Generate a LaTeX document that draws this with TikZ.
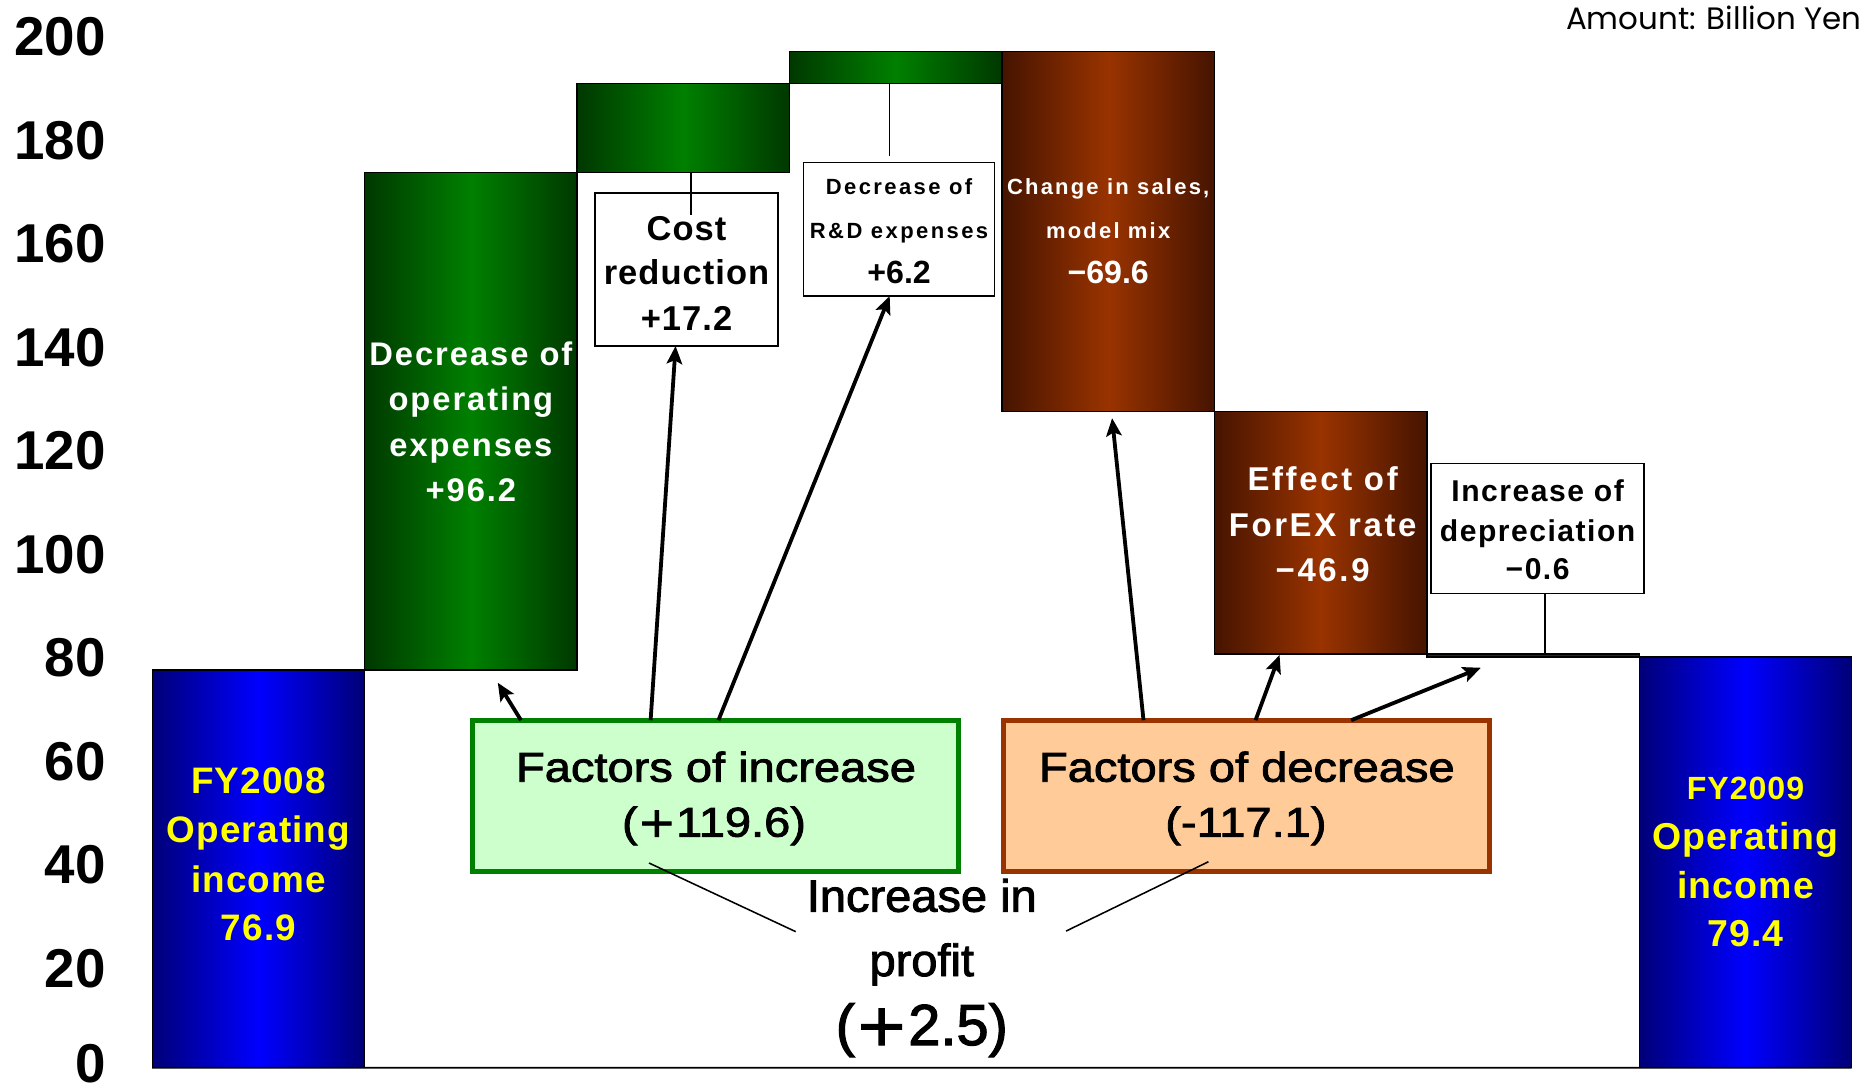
\documentclass[tikz,border=0pt]{standalone}
\usepackage{fontspec}
\setmainfont{Liberation Sans}
\newfontfamily\dvsans{DejaVu Sans}
\newfontfamily\amtfont{Poppins}
\usetikzlibrary{arrows.meta,calc}
\newcommand{\mysz}[1]{\fontsize{#1pt}{#1pt}\selectfont}
\newcommand{\bigplus}{{\dvsans\addfontfeature{FakeStretch=1.1,FakeBold=2}+}}
\definecolor{navyb}{RGB}{0,0,120}
\definecolor{brightb}{RGB}{0,0,255}
\definecolor{gdk}{RGB}{0,56,0}
\definecolor{gmid}{RGB}{0,128,0}
\definecolor{bdk}{RGB}{70,20,0}
\definecolor{bmid}{RGB}{153,51,0}
\definecolor{incfill}{RGB}{204,255,204}
\definecolor{incline}{RGB}{0,128,0}
\definecolor{decfill}{RGB}{255,204,153}
\definecolor{decline}{RGB}{153,51,0}
\definecolor{dred}{RGB}{128,0,0}
\definecolor{ylw}{RGB}{255,255,0}
\begin{document}
\begin{tikzpicture}[x=1pt,y=-1pt,
  bar/.style={draw=black,line width=1.2pt,inner sep=0pt,outer sep=0pt,anchor=north west,minimum width=178.6pt},
  bluebar/.style={bar,left color=navyb,right color=navyb,middle color=brightb},
  greenbar/.style={bar,left color=gdk,right color=gdk,middle color=gmid},
  brownbar/.style={bar,left color=bdk,right color=bdk,middle color=bmid},
  lbox/.style={draw=black,line width=1.2pt,fill=white,inner sep=0pt,outer sep=0pt,anchor=north west},
  fbox/.style={line width=4.2pt,inner sep=0pt,outer sep=0pt,anchor=north west,minimum width=408.6pt,minimum height=127.5pt},
  tl/.style={inner sep=0pt,anchor=base},
  ylab/.style={inner sep=0pt,anchor=east,font=\bfseries\mysz{46}},
  arr/.style={line width=3.2pt,-{Stealth[length=15pt,width=13pt,inset=3pt]}},
  thinln/.style={line width=1.3pt},
  wtext/.style={tl,text=white},
]
\useasboundingbox (0,0) rectangle (1568,915);

% bars
\node[bluebar,minimum height=334.4pt] (b1) at (128,563.3) {};
\node[greenbar,minimum height=418.4pt] (b2) at (306.6,144.9) {};
\node[greenbar,minimum height=74.8pt] (b3) at (485.2,70.1) {};
\node[greenbar,minimum height=27pt] (b4) at (663.8,43.1) {};
\node[brownbar,minimum height=302.7pt] (b5) at (842.4,43.1) {};
\node[brownbar,minimum height=204pt] (b6) at (1021,345.8) {};
\node[bar,fill=dred,minimum height=2.6pt] (b7) at (1199.6,549.8) {};
\node[bluebar,minimum height=345.3pt] (b8) at (1378.2,552.4) {};
\draw[line width=1.5pt] (b1.south west) -- (b8.south east);

% y labels
\foreach \v/\yy in {0/894.5,20/814,40/727.1,60/640.1,80/553.1,100/466.1,120/379.1,140/292.1,160/205.2,180/118.2,200/31.2}
  \node[ylab] (yl\v) at (89,\yy) {\v};

\node[tl,anchor=base east,font=\amtfont\mysz{26}] (amt) at (1565,24.5) {Amount: Billion Yen};

% bar 1 text
\begin{scope}[every node/.style={tl,text=ylw,font=\bfseries\mysz{31}\addfontfeature{LetterSpace=3}}]
\node (t1a) at (217.3,667) {FY2008};
\node (t1b) at (217.3,708) {Operating};
\node (t1c) at (217.3,750) {income};
\node (t1d) at (217.3,791) {76.9};
\end{scope}
% bar 8 text
\begin{scope}[every node/.style={tl,text=ylw,font=\bfseries\mysz{31.5}\addfontfeature{LetterSpace=3}}]
\node[font=\bfseries\mysz{27}\addfontfeature{LetterSpace=3}] (t8a) at (1467.5,672) {FY2009};
\node (t8b) at (1467.5,714) {Operating};
\node (t8c) at (1467.5,755) {income};
\node (t8d) at (1467.5,796) {79.4};
\end{scope}
% bar 2 text
\begin{scope}[every node/.style={wtext,font=\bfseries\mysz{27.5}\addfontfeature{LetterSpace=6}}]
\node (t2a) at (395.9,307.7) {Decrease of};
\node (t2b) at (395.9,345.3) {operating};
\node (t2c) at (395.9,383.4) {expenses};
\node (t2d) at (395.9,421.8) {+96.2};
\end{scope}

% cost reduction box
\node[lbox,minimum width=153.8pt,minimum height=128.6pt] (cb) at (500.3,162.3) {};
\begin{scope}[every node/.style={tl,font=\bfseries\mysz{29}\addfontfeature{LetterSpace=3}}]
\node (t3a) at (577.2,201.8) {Cost};
\node (t3b) at (577.2,239.6) {reduction};
\node (t3c) at (577.2,277.5) {+17.2};
\end{scope}
\coordinate (cbc) at ($(cb.north)+(3.8,18.7)$);
\draw[thinln] (cbc |- b3.south) -- (cbc);

% R&D box
\node[lbox,minimum width=160.6pt,minimum height=112.4pt] (rd) at (675.6,136.5) {};
\begin{scope}[every node/.style={tl,font=\bfseries\mysz{18.5}\addfontfeature{LetterSpace=11}}]
\node (t4a) at (755.9,163.4) {Decrease of};
\node (t4b) at (755.9,200.4) {R\&D expenses};
\node[font=\bfseries\mysz{27}] (t4c) at (755.9,238.2) {+6.2};
\end{scope}
\coordinate (rdc) at ($(rd.north)+(-7.9,-5.5)$);
\draw[thinln] (rdc |- b4.south) -- (rdc);

% bar 5 text
\begin{scope}[every node/.style={wtext,font=\bfseries\mysz{18.5}\addfontfeature{LetterSpace=10}}]
\node (t5a) at (931.7,163.4) {Change in sales,};
\node (t5b) at (931.7,200.4) {model mix};
\node[font=\bfseries\mysz{27}] (t5c) at (931.7,238.2) {−69.6};
\end{scope}

% bar 6 text
\begin{scope}[every node/.style={wtext,font=\bfseries\mysz{27.7}\addfontfeature{LetterSpace=8}}]
\node (t6a) at (1112,412.8) {Effect of};
\node (t6b) at (1112,451.2) {ForEX rate};
\node (t6c) at (1112,489) {−46.9};
\end{scope}

% depreciation box
\node[lbox,minimum width=179.1pt,minimum height=109.3pt] (db) at (1203.2,389.5) {};
\begin{scope}[every node/.style={tl,font=\bfseries\mysz{25.3}\addfontfeature{LetterSpace=5}}]
\node (t7a) at (1292.75,421.8) {Increase of};
\node (t7b) at (1292.75,455.4) {depreciation};
\node (t7c) at (1292.75,487.6) {−0.6};
\end{scope}
\coordinate (dbc) at ($(db.south)+(6,0)$);
\draw[thinln] (dbc) -- (dbc |- b7.north);

% factor boxes
\node[fbox,draw=incline,fill=incfill] (inc) at (397.2,605.5) {};
\node[fbox,draw=decline,fill=decfill] (dec) at (843.9,605.5) {};
\begin{scope}[every node/.style={tl,font=\mysz{35}\addfontfeature{FakeStretch=1.13,FakeBold=2}}]
\node (fi1) at (602,657.2) {Factors of increase};
\node (fi2) at (600.3,703.4) {(\bigplus119.6)};
\node (fd1) at (1048.3,657.2) {Factors of decrease};
\node (fd2) at (1047.5,703.4) {(-117.1)};
\end{scope}

% increase in profit
\node[tl,font=\mysz{38}\addfontfeature{FakeStretch=1.04,FakeBold=2}] (ip1) at (775,766.5) {Increase in};
\node[tl,font=\mysz{38}\addfontfeature{FakeStretch=1.04,FakeBold=2}] (ip2) at (775,820.6) {profit};
\node[tl,font=\mysz{48.6}\addfontfeature{FakeBold=2}] (ip3) at (775,878.6) {(\bigplus2.5)};

\draw[thinln] ($(inc.south west)+(148.5,-7.4)$) -- ($(ip1.base)+(-106,16.8)$);
\draw[thinln] ($(dec.south west)+(172.1,-8.5)$) -- ($(ip1.base)+(121.3,16.3)$);

% arrows
\draw[arr] ($(inc.north west)+(40.8,0)$) -- ($(b2.south west)+(111.9,10.7)$);
\draw[arr] ($(inc.north west)+(149.8,0)$) -- ($(cb.south)+(-9.2,0)$);
\draw[arr] ($(inc.north west)+(206.8,0)$) -- ($(rd.south)+(-7.9,0)$);
\draw[arr] ($(dec.north west)+(117.5,0)$) -- ($(b5.south)+(3.3,5.8)$);
\draw[arr] ($(dec.north west)+(211.7,0)$) -- ($(b6.south)+(-34.5,0.9)$);
\draw[arr] ($(dec.north west)+(292.1,0)$) -- ($(b7.south)+(-43.9,9)$);
\end{tikzpicture}
\end{document}
